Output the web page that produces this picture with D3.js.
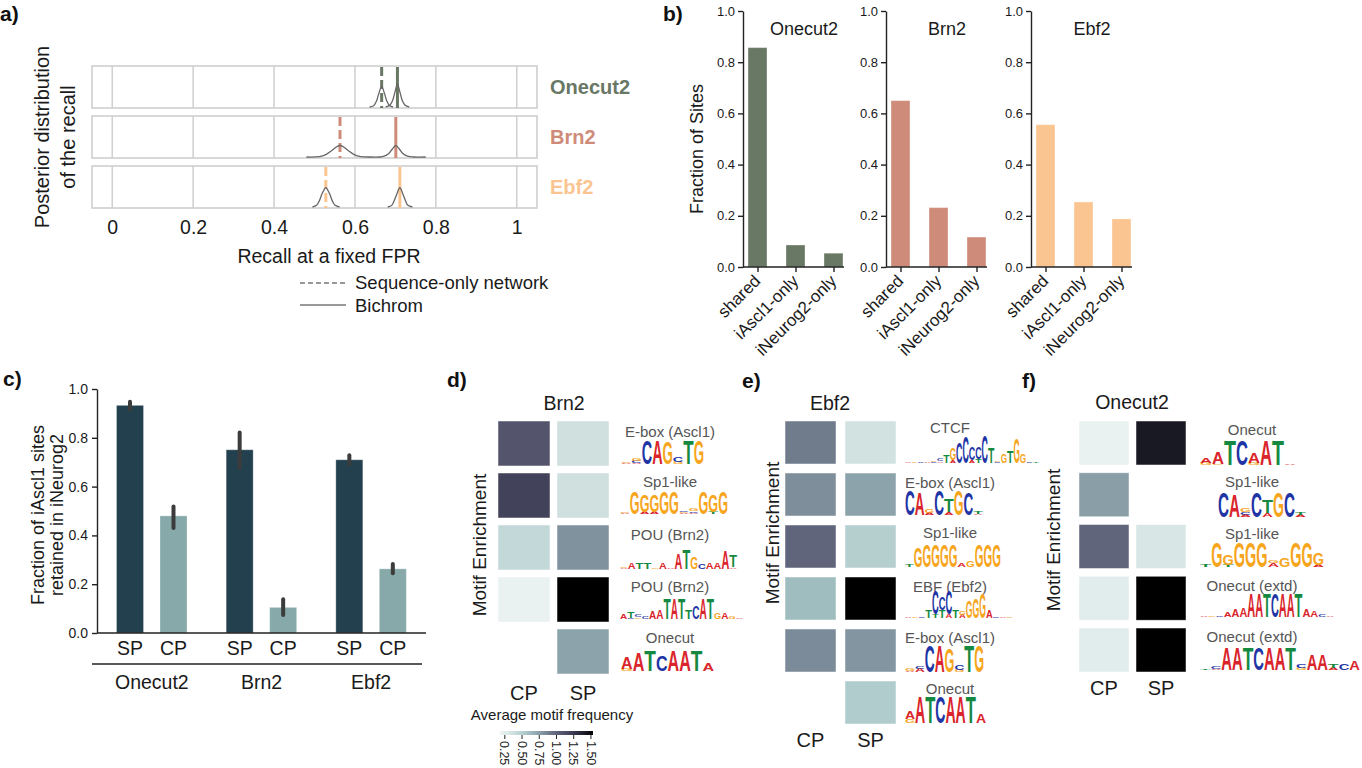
<!DOCTYPE html>
<html><head><meta charset="utf-8">
<script src="https://cdn.jsdelivr.net/npm/d3@7"></script>
<style>
html,body{margin:0;padding:0;background:#fff;}
svg{display:block;font-family:"Liberation Sans", Arial, Helvetica, sans-serif;}
</style></head><body>
<svg id="chart" width="1362" height="768"></svg>
<script>
// ================= DATA =================
// Panel a: posterior distribution of the recall
const tfNames = ["Onecut2", "Brn2", "Ebf2"];
const recallTicks = [0, 0.2, 0.4, 0.6, 0.8, 1];
const seqOnlyRecall = [0.666, 0.563, 0.528];
const bichromRecall = [0.705, 0.701, 0.711];
// [recall, relative density] read from the ridges
const seqOnlyPosterior = [
  [[0.636,0],[0.646,0.03],[0.653,0.14],[0.659,0.33],[0.666,0.50],[0.673,0.33],[0.679,0.14],[0.686,0.03],[0.694,0]],
  [[0.480,0],[0.512,0.01],[0.528,0.06],[0.543,0.16],[0.555,0.25],[0.563,0.28],[0.571,0.25],[0.583,0.16],[0.598,0.06],[0.614,0.01],[0.640,0],[0.662,0]],
  [[0.495,0],[0.505,0.04],[0.512,0.15],[0.519,0.33],[0.528,0.47],[0.537,0.33],[0.544,0.15],[0.551,0.04],[0.562,0]]
];
const bichromPosterior = [
  [[0.676,0],[0.686,0.04],[0.693,0.16],[0.699,0.37],[0.705,0.56],[0.711,0.37],[0.717,0.16],[0.724,0.04],[0.734,0]],
  [[0.662,0],[0.672,0.02],[0.683,0.08],[0.692,0.19],[0.701,0.28],[0.710,0.19],[0.719,0.08],[0.730,0.02],[0.745,0],[0.775,0]],
  [[0.681,0],[0.691,0.04],[0.697,0.15],[0.704,0.33],[0.711,0.47],[0.718,0.33],[0.725,0.15],[0.731,0.04],[0.742,0]]
];
const legendLabels = ["Sequence-only network", "Bichrom"];

// Panel b: fraction of sites
const siteCategories = ["shared", "iAscl1-only", "iNeurog2-only"];
const siteFracOnecut2 = [0.857, 0.086, 0.054];
const siteFracBrn2 = [0.650, 0.232, 0.117];
const siteFracEbf2 = [0.556, 0.254, 0.188];
const fractionTicks = [0, 0.2, 0.4, 0.6, 0.8, 1.0];

// Panel c: fraction of iAscl1 sites retained in iNeurog2
const peakTypes = ["SP", "CP"];
const retainedSP = [0.933, 0.751, 0.710];
const retainedCP = [0.480, 0.105, 0.263];
const retainedSPci = [[0.915, 0.948], [0.676, 0.822], [0.692, 0.728]];
const retainedCPci = [[0.430, 0.518], [0.074, 0.138], [0.245, 0.283]];

// Panels d-f: motif enrichment (average motif frequency)
const heatColumns = ["CP", "SP"];
const brn2Motifs = ["E-box (Ascl1)", "Sp1-like", "POU (Brn2)", "POU (Brn2)", "Onecut"];
const brn2CP = [1.08, 1.20, 0.43, 0.21, null];
const brn2SP = [0.37, 0.37, 0.80, 1.60, 0.73];
const ebf2Motifs = ["CTCF", "E-box (Ascl1)", "Sp1-like", "EBF (Ebf2)", "E-box (Ascl1)", "Onecut"];
const ebf2CP = [0.90, 0.82, 1.00, 0.62, 0.83, null];
const ebf2SP = [0.36, 0.73, 0.50, 1.60, 0.79, 0.52];
const onecut2Motifs = ["Onecut", "Sp1-like", "Sp1-like", "Onecut (extd)", "Onecut (extd)"];
const onecut2CP = [0.21, 0.75, 1.00, 0.26, 0.26];
const onecut2SP = [1.42, null, 0.32, 1.60, 1.60];
const colorbarTicks = [0.25, 0.50, 0.75, 1.00, 1.25, 1.50];

// Sequence logos: columns separated by spaces, letter+height stacked bottom->top
const brn2Logos = [
  "A.06,G.06 A.05,C.08,G.12 C1 A1 G.92 G.08,C.22 T1 G1",
  "A.05,G.05 G1 A.1,G.75 A.1,G.75 G1 G1 A.05,G.05,C.05 A.05,C.08,G.12 G1 T.1,G.75 G1",
  "A.05,G.05 A.3 T.35 T.35 G.05 A.3 A.06 A.8 T1 G.6 C.25 A.3 A.35 A.9 A.08,T.6",
  "A.25 C.05,T.3 G.08,C.1 C.1 A.35 A.45 T1 A1 T1 T.45 C.6 A1 T1 G.3 A.3 G.1 A.05",
  "G.1,A.55 A.9 T1 C.75 A1 A1 T1 A.4"
];
const ebf2Logos = [
  "A.03 G.03 C.03 A.03 C.05,G.05 A.06,C.08 T.3 A.1,G.4 C.75 C.95 A.1,C.45 T.15,C.4 C1 T.55 C.04,G.05 G.35 T.4 G.9 G.35 C.04 T.03",
  "C1 A.9 A.08,G.15 C1 A.12,T.55 G1 C.9 A.05,T.08",
  "T.1 G.9 G1 G1 G1 G1 A.15 G.3 G1 G1 G1",
  "A.03 G.03 C.05 T.3 T.15,C.85 T.3,C.45 A.15,C.85 T.3 A.12,G.12 G.6 G.7 G.9 A.3 C.03 A.05 G.03",
  "A.05,G.1 A.12,C.1 C1 A1 G.9 G.08,C.2 T1 G1",
  "G.15,A.3 A1 T1 C1 A1 A1 T1 A.35"
];
const onecut2Logos = [
  "G.1,A.2 G.05,A.45 T1 C1 G.1,A.4 A1 T1 A.03",
  "C1 A.9 A.1,C.1,G.15 C1 A.15,T.5 G1 C1 A.1,T.1",
  "T.1 G1 T.1,G.4 G1 G1 G1 A.15,G.1 G.35 G1 G1 A.1,G.45",
  "A.03 G.03 C.03 A.2 A.3 A.4 A1 A1 T1 C1 A1 A1 T1 A.3 A.25 C.08 A.05",
  "T.08 A.05,C.1 A1 A1 T1 C1 A1 A1 T1 G.1,C.15 A.7 A.7 A.1,T.2 C.3 A.4"
];

// ================= STYLE =================
const TXT = "#1a1a1a";
const tfColors = ["#697765", "#cf8b79", "#fbc591"];
const spColor = "#23404f", cpColor = "#87a9aa";
const letterColors = {A: "#d9252b", C: "#2134a6", G: "#f6a51d", T: "#15893f"};
const letterAdv = {A: 0.722, C: 0.722, G: 0.778, T: 0.611};
const heat = d3.scaleLinear()
  .domain([0.18, 0.35, 0.5, 0.62, 0.75, 0.9, 1.05, 1.2, 1.4, 1.53])
  .range(["#eef4f4", "#d3e3e2", "#b5cfcf", "#9fbcbe", "#8a9ea8", "#707b8c", "#585a72", "#42425b", "#1d1d29", "#000000"])
  .clamp(true);

const svg = d3.select("#chart");

function label(x, y, t, opts = {}) {
  const e = svg.append("text").attr("x", x).attr("y", y).text(t)
    .attr("font-size", opts.size || 18).attr("fill", opts.fill || TXT)
    .attr("text-anchor", opts.anchor || "start");
  if (opts.weight) e.attr("font-weight", opts.weight);
  if (opts.dy) e.attr("dy", opts.dy);
  if (opts.rotate !== undefined) e.attr("transform", `rotate(${opts.rotate},${x},${y})`);
  return e;
}

// panel letters
[["a)",0,21],["b)",663,21],["c)",3,386],["d)",447,387],["e)",742,388],["f)",1022,388]]
  .forEach(([t,x,y]) => label(x, y, t, {size: 21, weight: "bold", fill: "#111"}));

// ================= PANEL A =================
(function(){
  const x = d3.scaleLinear().domain([-0.05, 1.05]).range([92, 537]);
  const rows = d3.scaleBand().domain(tfNames).range([66, 208]).paddingInner(0.16);
  const h = rows.bandwidth();
  const g = svg.append("g");
  tfNames.forEach((tf, i) => {
    const top = rows(tf), bot = top + h;
    g.append("rect").attr("x", x(-0.05)).attr("y", top).attr("width", x(1.05) - x(-0.05)).attr("height", h)
      .attr("fill", "#fff").attr("stroke", "#cfcfcf").attr("stroke-width", 1.6);
    recallTicks.forEach(t => g.append("line").attr("x1", x(t)).attr("x2", x(t)).attr("y1", top).attr("y2", bot)
      .attr("stroke", "#cfcfcf").attr("stroke-width", 1.5));
    g.append("line").attr("x1", x(seqOnlyRecall[i])).attr("x2", x(seqOnlyRecall[i])).attr("y1", top + 1).attr("y2", bot)
      .attr("stroke", tfColors[i]).attr("stroke-width", 3).attr("stroke-dasharray", "9,4");
    g.append("line").attr("x1", x(bichromRecall[i])).attr("x2", x(bichromRecall[i])).attr("y1", top + 1).attr("y2", bot)
      .attr("stroke", tfColors[i]).attr("stroke-width", 3);
    const y = d3.scaleLinear().domain([0, 1]).range([bot - 1, top]);
    const line = d3.line().x(d => x(d[0])).y(d => y(d[1])).curve(d3.curveCatmullRom.alpha(0.5));
    [seqOnlyPosterior[i], bichromPosterior[i]].forEach(pts =>
      g.append("path").attr("d", line(pts)).attr("fill", "none").attr("stroke", "#666").attr("stroke-width", 1.3));
    label(550, top + h / 2, tf, {size: 20, weight: "bold", fill: tfColors[i], dy: "0.35em"});
  });
  const ax = svg.append("g").attr("transform", "translate(0,208)")
    .call(d3.axisBottom(x).tickValues(recallTicks).tickFormat(d3.format("~g")).tickSize(0).tickPadding(12));
  ax.select(".domain").remove();
  ax.selectAll("text").attr("font-size", 19.5).attr("fill", TXT).attr("font-family", "Liberation Sans, Arial, sans-serif");
  label(329, 256, "Recall at a fixed FPR", {size: 19.5, anchor: "middle", dy: "0.35em"});
  label(42, 137, "Posterior distribution", {size: 20, anchor: "middle", dy: "0.35em", rotate: -90});
  label(68, 137, "of the recall", {size: 20, anchor: "middle", dy: "0.35em", rotate: -90});
  // legend
  svg.append("line").attr("x1", 300).attr("x2", 346).attr("y1", 283).attr("y2", 283)
    .attr("stroke", "#777").attr("stroke-width", 1.3).attr("stroke-dasharray", "5,3");
  svg.append("line").attr("x1", 300).attr("x2", 346).attr("y1", 305).attr("y2", 305)
    .attr("stroke", "#777").attr("stroke-width", 1.3);
  label(355, 283, legendLabels[0], {size: 18.5, dy: "0.35em"});
  label(355, 306, legendLabels[1], {size: 18.5, dy: "0.35em"});
})();

// ================= PANEL B =================
(function(){
  const y = d3.scaleLinear().domain([0, 1]).range([267, 11]);
  const fracs = [siteFracOnecut2, siteFracBrn2, siteFracEbf2];
  const axisX = [743, 886, 1031];
  tfNames.forEach((tf, i) => {
    const x0 = axisX[i];
    const x = d3.scalePoint().domain(siteCategories).range([x0 + 14.5, x0 + 90.5]);
    const g = svg.append("g");
    g.selectAll("rect").data(fracs[i]).join("rect")
      .attr("x", (d, j) => x(siteCategories[j]) - 9.5).attr("width", 19)
      .attr("y", d => y(d)).attr("height", d => y(0) - y(d))
      .attr("fill", tfColors[i]).attr("stroke", "rgba(255,255,255,0.35)").attr("stroke-width", 1);
    const ay = svg.append("g").attr("transform", `translate(${x0},0)`)
      .call(d3.axisLeft(y).tickValues(fractionTicks).tickFormat(d3.format(".1f")).tickSize(5).tickSizeOuter(0).tickPadding(3));
    ay.selectAll("path,line").attr("stroke", "#222").attr("stroke-width", 1.4);
    ay.selectAll("text").attr("font-size", 13).attr("fill", TXT).attr("font-family", "Liberation Sans, Arial, sans-serif");
    const ax = svg.append("g").attr("transform", "translate(0,267)")
      .call(d3.axisBottom(x).tickSize(5).tickSizeOuter(0).tickFormat(""));
    ax.select(".domain").attr("d", `M${x0},0H${x0 + 101}`);
    ax.selectAll("path,line").attr("stroke", "#222").attr("stroke-width", 1.4);
    siteCategories.forEach(c => label(x(c) + 4, 282, c, {size: 17, anchor: "end", rotate: -45}));
    label(x0 + 61, 29, tf, {size: 18, anchor: "middle", dy: "0.35em"});
  });
  label(697, 149, "Fraction of Sites", {size: 18, anchor: "middle", dy: "0.35em", rotate: -90});
})();

// ================= PANEL C =================
(function(){
  const y = d3.scaleLinear().domain([0, 1]).range([633, 389]);
  const gx = d3.scaleBand().domain(tfNames).range([97, 426]);
  const ix = d3.scaleBand().domain(peakTypes).range([19.5, 90]).paddingInner(0.379);
  const vals = {SP: retainedSP, CP: retainedCP};
  const cis = {SP: retainedSPci, CP: retainedCPci};
  const cols = {SP: spColor, CP: cpColor};
  const g = svg.append("g");
  tfNames.forEach((tf, i) => {
    peakTypes.forEach(p => {
      const bx = gx(tf) + ix(p);
      g.append("rect").attr("x", bx).attr("width", ix.bandwidth()).attr("y", y(vals[p][i]))
        .attr("height", y(0) - y(vals[p][i])).attr("fill", cols[p])
        .attr("stroke", "rgba(255,255,255,0.3)").attr("stroke-width", 1);
      const cx = bx + ix.bandwidth() / 2;
      g.append("line").attr("x1", cx).attr("x2", cx).attr("y1", y(cis[p][i][0])).attr("y2", y(cis[p][i][1]))
        .attr("stroke", "#3c3c3c").attr("stroke-width", 4).attr("stroke-linecap", "round");
      label(cx, 648, p, {size: 19.5, anchor: "middle", dy: "0.35em"});
    });
    label(gx(tf) + gx.bandwidth() / 2, 682, tf, {size: 19.5, anchor: "middle", dy: "0.35em"});
  });
  const ay = svg.append("g").attr("transform", "translate(97,0)")
    .call(d3.axisLeft(y).tickValues(fractionTicks).tickFormat(d3.format(".1f")).tickSize(5).tickSizeOuter(0).tickPadding(4));
  ay.selectAll("path,line").attr("stroke", "#222").attr("stroke-width", 1.4);
  ay.selectAll("text").attr("font-size", 14).attr("fill", TXT).attr("font-family", "Liberation Sans, Arial, sans-serif");
  svg.append("line").attr("x1", 97).attr("x2", 426).attr("y1", 633).attr("y2", 633).attr("stroke", "#222").attr("stroke-width", 1.6);
  svg.append("line").attr("x1", 92).attr("x2", 422).attr("y1", 664).attr("y2", 664).attr("stroke", "#222").attr("stroke-width", 1.4);
  label(38, 515, "Fraction of iAscl1  sites", {size: 18, anchor: "middle", dy: "0.35em", rotate: -90});
  label(57, 515, "retained in iNeurog2", {size: 18, anchor: "middle", dy: "0.35em", rotate: -90});
})();

// ================= PANELS D-F =================
function drawLogo(spec, box) {
  const [x0, x1, yTop, yBot] = box;
  const cols = spec.split(" ").map(c => c.split(",").map(s => [s[0], +s.slice(1)]));
  const x = d3.scaleBand().domain(d3.range(cols.length)).range([x0, x1]).paddingInner(0);
  const hs = d3.scaleLinear().domain([0, 1]).range([0, yBot - yTop]);
  const w = x.bandwidth();
  const g = svg.append("g");
  cols.forEach((col, i) => {
    let yb = yBot;
    col.forEach(([L, v]) => {
      const hh = hs(v);
      if (hh < 0.5) { yb -= hh; return; }
      g.append("text").text(L).attr("font-size", 100).attr("font-weight", "bold")
        .attr("text-anchor", "middle").attr("fill", letterColors[L])
        .attr("transform", `translate(${x(i) + w / 2},${yb}) scale(${w / (letterAdv[L] * 100)},${hh / 71.6})`);
      yb -= hh;
    });
  });
}

function heatPanel(cfg) {
  const xs = d3.scaleBand().domain(heatColumns).range(cfg.xr).paddingInner(cfg.xp);
  const ys = d3.scaleBand().domain(d3.range(cfg.motifs.length)).range(cfg.yr).paddingInner(cfg.yp);
  const g = svg.append("g");
  cfg.motifs.forEach((m, i) => {
    [["CP", cfg.cp[i]], ["SP", cfg.sp[i]]].forEach(([c, v]) => {
      if (v === null) return;
      g.append("rect").attr("x", xs(c)).attr("y", ys(i)).attr("width", xs.bandwidth()).attr("height", ys.bandwidth())
        .attr("fill", heat(v)).attr("stroke", "rgba(255,255,255,0.6)").attr("stroke-width", 0.8);
    });
    label(cfg.labelX, cfg.labelY[i], m, {size: 15, anchor: "middle", fill: "#555", dy: "0.35em"});
    drawLogo(cfg.logos[i], cfg.logoBoxes[i]);
  });
  heatColumns.forEach(c => label(xs(c) + xs.bandwidth() / 2, cfg.colLabelY, c, {size: 20, anchor: "middle", dy: "0.35em"}));
  label(cfg.title[1], cfg.title[2], cfg.title[0], {size: 19.5, anchor: "middle", dy: "0.35em"});
  label(cfg.me[0], cfg.me[1], "Motif Enrichment", {size: 19, anchor: "middle", dy: "0.35em", rotate: -90});
}

heatPanel({
  motifs: brn2Motifs, cp: brn2CP, sp: brn2SP, logos: brn2Logos,
  xr: [498, 609], xp: 0.119, yr: [421, 674], yp: 0.135,
  labelX: 670, labelY: [432, 482, 535, 587, 638],
  logoBoxes: [[621,704,440,464],[620,728,492,514],[620,737,549,569],[620,743,598,619],[621,714,650,671]],
  colLabelY: 693, title: ["Brn2", 564, 403], me: [479, 545]
});
heatPanel({
  motifs: ebf2Motifs, cp: ebf2CP, sp: ebf2SP, logos: ebf2Logos,
  xr: [785, 896], xp: 0.15, yr: [421, 724], yp: 0.173,
  labelX: 950, labelY: [428, 483, 533, 587, 638, 689],
  logoBoxes: [[905,1039,435,463],[905,983,490,515],[905,1001,545,567],[905,1013,590,618],[905,984,645,672],[905,986,697,723]],
  colLabelY: 740, title: ["Ebf2", 830, 403], me: [772, 533]
});
heatPanel({
  motifs: onecut2Motifs, cp: onecut2CP, sp: onecut2SP, logos: onecut2Logos,
  xr: [1079, 1186], xp: 0.123, yr: [421, 672], yp: 0.15,
  labelX: 1252, labelY: [430, 482, 534, 586, 637],
  logoBoxes: [[1200,1296,440,465],[1218,1306,492,517],[1200,1324,542,567],[1200,1334,593,617],[1200,1360,648,670]],
  colLabelY: 688, title: ["Onecut2", 1132, 402], me: [1053, 540]
});

// colorbar
(function(){
  const cx = d3.scaleLinear().domain([0.18, 1.53]).range([500, 593]);
  const defs = svg.append("defs");
  const grad = defs.append("linearGradient").attr("id", "cbar").attr("x1", "0%").attr("x2", "100%");
  d3.range(0, 1.0001, 0.05).forEach(t => grad.append("stop").attr("offset", (t * 100) + "%")
    .attr("stop-color", heat(0.18 + t * (1.53 - 0.18))));
  svg.append("rect").attr("x", 500).attr("y", 731).attr("width", 93).attr("height", 4).attr("fill", "url(#cbar)");
  colorbarTicks.forEach(t => {
    svg.append("line").attr("x1", cx(t)).attr("x2", cx(t)).attr("y1", 735).attr("y2", 739).attr("stroke", "#222").attr("stroke-width", 1);
    label(cx(t), 741, d3.format(".2f")(t), {size: 12.5, rotate: 90, dy: "0.35em"});
  });
  label(552, 715, "Average motif frequency", {size: 15, anchor: "middle", dy: "0.35em"});
})();
</script>
</body></html>
